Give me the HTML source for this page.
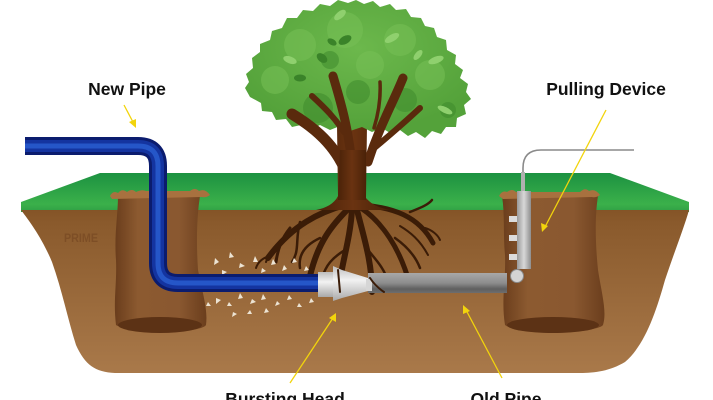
<!DOCTYPE html>
<html><head><meta charset="utf-8">
<style>
html,body{margin:0;padding:0;background:#fff;}
body{width:713px;height:400px;overflow:hidden;}
svg{display:block;}
text{font-family:"Liberation Sans",Arial,sans-serif;font-weight:bold;}
</style></head>
<body>
<svg width="713" height="400" viewBox="0 0 713 400" xmlns="http://www.w3.org/2000/svg">
<defs>
<linearGradient id="grass" x1="0" y1="0" x2="0" y2="1">
<stop offset="0" stop-color="#1c9241"/>
<stop offset="0.8" stop-color="#3bb04a"/>
<stop offset="1" stop-color="#2f9f45"/>
</linearGradient>
<linearGradient id="soil" x1="0" y1="0" x2="0" y2="1">
<stop offset="0" stop-color="#845427"/>
<stop offset="0.08" stop-color="#8a5a2c"/>
<stop offset="1" stop-color="#a9794a"/>
</linearGradient>
<linearGradient id="hole" x1="0" y1="0" x2="1" y2="0">
<stop offset="0" stop-color="#6a3d1c"/>
<stop offset="0.25" stop-color="#8c5a30"/>
<stop offset="0.7" stop-color="#8a5830"/>
<stop offset="1" stop-color="#6b3e1d"/>
</linearGradient>
<linearGradient id="oldpipe" x1="0" y1="0" x2="0" y2="1">
<stop offset="0" stop-color="#a8a8a8"/>
<stop offset="0.5" stop-color="#8d8d8d"/>
<stop offset="0.8" stop-color="#5f5f5f"/>
<stop offset="1" stop-color="#6e6e6e"/>
</linearGradient>
<linearGradient id="silver" x1="0" y1="0" x2="0" y2="1">
<stop offset="0" stop-color="#bdbdbd"/>
<stop offset="0.4" stop-color="#f2f2f2"/>
<stop offset="1" stop-color="#a9a9a9"/>
</linearGradient>
<linearGradient id="bar" x1="0" y1="0" x2="1" y2="0">
<stop offset="0" stop-color="#9a9a9a"/>
<stop offset="0.5" stop-color="#d8d8d8"/>
<stop offset="1" stop-color="#8e8e8e"/>
</linearGradient>
<linearGradient id="trunk" x1="0" y1="0" x2="1" y2="0">
<stop offset="0" stop-color="#4a2208"/>
<stop offset="0.5" stop-color="#6a3311"/>
<stop offset="1" stop-color="#4a2208"/>
</linearGradient>
<radialGradient id="canopy" cx="0.5" cy="0.35" r="0.6">
<stop offset="0" stop-color="#6cb84c"/>
<stop offset="1" stop-color="#54a23a"/>
</radialGradient>
</defs>

<!-- grass -->
<path d="M100,173 L610,173 L689,202 L689,212 L21,212 L21,202 Z" fill="url(#grass)"/>
<!-- soil -->
<path d="M21,210 L689,210 C684,228 675,250 665,280 C656,312 645,345 625,362 C610,371 595,373 580,373 L115,373 C95,372 85,365 76,345 C68,320 62,290 52,262 C42,238 30,222 21,210 Z" fill="url(#soil)"/>

<!-- watermark -->
<text x="64" y="242" font-size="12" fill="#7a4b24" opacity="0.8" textLength="34" lengthAdjust="spacingAndGlyphs">PRIME</text>

<!-- left hole -->
<path d="M118,196 L200,196 C197,215 196,240 198,270 C203,295 208,310 206,325 C200,334 130,334 116,325 C113,300 117,285 116,260 C114,235 118,215 118,196 Z" fill="url(#hole)"/>
<ellipse cx="160" cy="325" rx="42" ry="8" fill="#5c3215"/>
<path d="M110,196 q3,-6 8,-3 q4,-5 9,-1 q5,-4 9,0 q6,-3 10,-1 L190,191 q5,-4 9,0 q6,-3 11,4 q-4,3 -8,2 L112,199 Z" fill="#a8713f"/>

<!-- right hole -->
<path d="M502,196 L598,196 C595,215 595,240 598,270 C602,295 607,312 603,325 C596,334 515,334 505,325 C501,300 506,280 505,255 C503,235 505,215 502,196 Z" fill="url(#hole)"/>
<ellipse cx="553" cy="325" rx="46" ry="8" fill="#5c3215"/>
<path d="M499,196 q3,-6 8,-4 q5,-4 9,0 L580,192 q5,-5 9,-1 q6,-3 11,4 q-4,3 -8,2 L503,199 Z" fill="#a8713f"/>

<!-- roots -->
<g stroke="#3b1c07" fill="none" stroke-linecap="round">
<path d="M345,205 C320,212 292,225 268,258" stroke-width="6"/>
<path d="M290,228 C282,238 278,248 276,262" stroke-width="3"/>
<path d="M300,222 C295,240 300,250 292,262" stroke-width="2.5"/>
<path d="M349,208 C332,225 318,242 310,276" stroke-width="6"/>
<path d="M320,238 C305,245 298,255 300,268" stroke-width="2.5"/>
<path d="M352,210 C350,240 342,262 338,292" stroke-width="6"/>
<path d="M345,250 C332,258 326,265 322,278" stroke-width="2.5"/>
<path d="M357,210 C364,238 372,262 372,292" stroke-width="6"/>
<path d="M368,250 C378,262 385,270 388,282" stroke-width="2.5"/>
<path d="M361,208 C382,222 400,248 410,285" stroke-width="5"/>
<path d="M395,238 C405,245 415,255 420,268" stroke-width="2.5"/>
<path d="M364,205 C392,208 418,215 433,243" stroke-width="5"/>
<path d="M410,212 C420,208 428,205 432,200" stroke-width="2.5"/>
<path d="M425,228 C432,230 438,235 440,240" stroke-width="2"/>
<path d="M270,256 C262,258 258,262 256,268" stroke-width="2"/>
<path d="M283,240 C276,244 270,250 266,262" stroke-width="2"/>
<path d="M400,226 C410,232 420,240 428,255" stroke-width="2"/>
</g>

<!-- debris -->
<g fill="#ece3d3">
<polygon points="215,258 219,262 214,265"/><polygon points="230,252 234,257 229,258"/><polygon points="240,263 245,266 239,268"/>
<polygon points="255,256 258,262 253,262"/><polygon points="222,270 227,272 222,275"/><polygon points="262,268 266,271 261,273"/>
<polygon points="273,259 276,264 271,265"/><polygon points="284,265 287,269 282,271"/><polygon points="294,258 297,262 292,263"/>
<polygon points="306,266 309,270 304,271"/><polygon points="248,275 252,276 247,279"/>
<polygon points="216,298 221,300 216,304"/><polygon points="229,302 232,306 227,306"/><polygon points="240,293 243,298 238,299"/>
<polygon points="252,299 256,302 250,304"/><polygon points="263,294 266,299 261,300"/><polygon points="277,301 280,304 275,306"/>
<polygon points="289,295 292,299 287,300"/><polygon points="299,303 302,307 297,307"/><polygon points="311,298 314,302 309,303"/>
<polygon points="233,312 237,314 232,317"/><polygon points="266,308 269,312 264,313"/><polygon points="250,310 252,314 247,314"/>
<polygon points="220,286 223,290 218,290"/><polygon points="208,302 211,306 206,306"/>
</g>

<!-- blue pipe -->
<g fill="none" stroke-linejoin="round">
<path d="M25,146 H138 Q158,146 158,166 V263 Q158,283 178,283 H322" stroke="#0b1c6e" stroke-width="18"/>
<path d="M25,146 H138 Q158,146 158,166 V263 Q158,283 178,283 H322" stroke="#1434a0" stroke-width="12"/>
<path d="M25,146 H138 Q158,146 158,166 V263 Q158,283 178,283 H322" stroke="#2556c8" stroke-width="5"/>
</g>

<!-- old pipe -->
<rect x="368" y="273" width="139" height="20" fill="url(#oldpipe)"/>
<!-- bursting head -->
<rect x="318" y="272" width="18" height="25" fill="url(#silver)"/>
<polygon points="333,266 342,270 368,278 368,291 342,298 333,301" fill="url(#silver)"/>
<rect x="366" y="279" width="6" height="12" fill="#d6d6d6"/>
<g stroke="#3b1c07" fill="none" stroke-linecap="round">
<path d="M338,270 L340,292" stroke-width="2"/>
<path d="M370,278 C374,284 378,288 384,292" stroke-width="2"/>
</g>

<!-- pulling device -->
<path d="M523,175 V168 Q523,150 541,150 H634" fill="none" stroke="#8a8a8a" stroke-width="1.6"/>
<rect x="521" y="172" width="4" height="20" fill="#b0b0b0"/>
<rect x="517" y="191" width="14" height="78" fill="url(#bar)"/>
<rect x="509" y="216" width="8" height="6" fill="#dcdcdc"/>
<rect x="509" y="235" width="8" height="6" fill="#dcdcdc"/>
<rect x="509" y="254" width="8" height="6" fill="#dcdcdc"/>
<circle cx="517" cy="276" r="6.5" fill="#d4d4d4" stroke="#8a8a8a" stroke-width="1"/>

<!-- trunk -->
<path d="M337,125 L367,125 L366,198 C372,205 380,208 390,210 L316,210 C326,208 334,204 338,196 Z" fill="url(#trunk)"/>

<!-- tree canopy -->
<path fill="url(#canopy)" d="M250,97 L245,88 L249,82 L246,74 L253,68 L252,58 L260,52 L260,44 L270,40 L272,31 L282,28 L287,18 L297,18 L303,10 L313,11 L320,4 L330,6 L338,0 L348,3 L356,0 L364,4 L373,1 L380,7 L390,4 L396,10 L406,9 L411,17 L421,18 L425,26 L434,28 L437,37 L446,40 L447,50 L456,55 L455,64 L463,70 L460,78 L468,84 L466,92 L471,99 L464,105 L466,114 L457,118 L456,127 L446,127 L441,134 L432,131 L425,138 L416,132 L408,136 L400,130 L390,133 L382,128 L372,132 L362,127 L350,131 L340,126 L330,130 L320,125 L310,130 L301,125 L292,127 L286,119 L276,120 L272,112 L262,111 L261,103 Z"/>
<g fill="#77c056" opacity="0.55">
<circle cx="300" cy="45" r="16"/><circle cx="345" cy="30" r="18"/><circle cx="400" cy="40" r="16"/>
<circle cx="275" cy="80" r="14"/><circle cx="430" cy="75" r="15"/><circle cx="370" cy="65" r="14"/>
</g>
<g fill="#3f8b2d" opacity="0.55">
<circle cx="318" cy="108" r="15"/><circle cx="358" cy="92" r="12"/><circle cx="405" cy="100" r="12"/>
<circle cx="330" cy="60" r="9"/><circle cx="448" cy="110" r="8"/>
</g>
<g fill="#8fd06e">
<ellipse cx="340" cy="15" rx="7" ry="3.5" transform="rotate(-40 340 15)"/>
<ellipse cx="392" cy="38" rx="8" ry="3.5" transform="rotate(-30 392 38)"/>
<ellipse cx="436" cy="60" rx="8" ry="3.5" transform="rotate(-20 436 60)"/>
<ellipse cx="290" cy="60" rx="7" ry="3.5" transform="rotate(20 290 60)"/>
<ellipse cx="445" cy="110" rx="8" ry="3" transform="rotate(25 445 110)"/>
<ellipse cx="418" cy="55" rx="6" ry="3" transform="rotate(-50 418 55)"/>
</g>
<g fill="#3a8329">
<ellipse cx="345" cy="40" rx="7" ry="4" transform="rotate(-30 345 40)"/>
<ellipse cx="322" cy="58" rx="6" ry="4" transform="rotate(40 322 58)"/>
<ellipse cx="300" cy="78" rx="6" ry="3.5"/>
<ellipse cx="332" cy="42" rx="5" ry="3" transform="rotate(30 332 42)"/>
</g>
<!-- branches -->
<g stroke="#5a2a0d" fill="none" stroke-linecap="round">
<path d="M292,114 C315,128 335,145 346,172" stroke-width="11"/>
<path d="M333,76 C340,100 348,125 352,165" stroke-width="9"/>
<path d="M312,96 C325,108 335,118 344,132" stroke-width="6"/>
<path d="M403,78 C392,105 380,125 368,162" stroke-width="9"/>
<path d="M420,108 C405,122 390,135 372,150" stroke-width="6"/>
<path d="M380,82 C381,100 378,115 374,128" stroke-width="3.5"/>
</g>
<path d="M340,150 L366,150 L366,200 L338,200 Z" fill="url(#trunk)"/>

<!-- arrows -->
<g stroke="#f2d40c" stroke-width="1.3" fill="none">
<line x1="124" y1="105" x2="134" y2="124"/>
<line x1="606" y1="110" x2="545" y2="227"/>
<line x1="290" y1="383" x2="333" y2="318"/>
<line x1="502" y1="378" x2="466" y2="310"/>
</g>
<g fill="#f2d40c">
<polygon points="136,128 129,122 136,119"/>
<polygon points="542,232 541,223 548,226"/>
<polygon points="336,313 329,318 336,322"/>
<polygon points="463,305 463,314 470,311"/>
</g>

<!-- labels -->
<text x="127" y="95" font-size="17.5" text-anchor="middle" fill="#111">New Pipe</text>
<text x="606" y="95" font-size="17.5" text-anchor="middle" fill="#111">Pulling Device</text>
<text x="285" y="405" font-size="17.5" text-anchor="middle" fill="#111">Bursting Head</text>
<text x="506" y="405" font-size="17.5" text-anchor="middle" fill="#111">Old Pipe</text>
</svg>
</body></html>
